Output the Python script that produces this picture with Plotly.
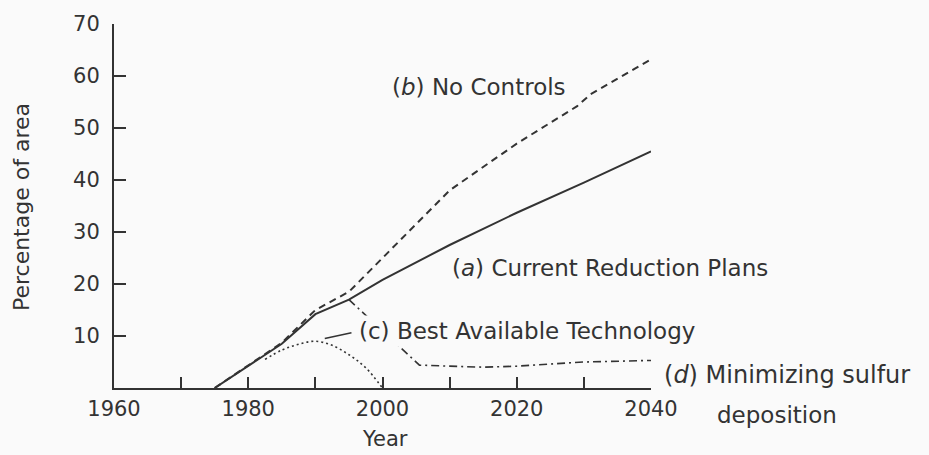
import plotly.graph_objects as go

# ---- data ----
a_years = [1975, 1980, 1985, 1990, 1995, 2000, 2010, 2020, 2030, 2040]
a_vals = [0, 4.3, 8.5, 14.2, 17, 20.8, 27.5, 33.7, 39.5, 45.5]

b_years = [1975, 1980, 1985, 1990, 1995, 2000, 2005, 2010, 2020, 2029, 2031, 2040]
b_vals = [0, 4.3, 8.7, 15, 18.5, 25, 31.5, 38, 47, 54.2, 56.5, 63.2]

c_years = [1982.5, 1985, 1987.5, 1990, 1992.5, 1995, 1997.5, 2000]
c_vals = [5.5, 7.3, 8.4, 9.0, 8.2, 6.4, 3.9, 0]

d_years = [1995, 2005.5, 2010, 2015, 2020, 2025, 2030, 2040]
d_vals = [17, 4.4, 4.2, 4.0, 4.2, 4.6, 5.0, 5.3]

x_tickvals = [1960, 1970, 1980, 1990, 2000, 2010, 2020, 2030, 2040]
x_ticktext = ["1960", "", "1980", "", "2000", "", "2020", "", "2040"]
y_tickvals = [10, 20, 30, 40, 50, 60, 70]
y_ticktext = ["10", "20", "30", "40", "50", "60", "70"]

INK = "#333333"
BG = "#fafafa"
FONT = "DejaVu Sans"

fig = go.Figure()
fig.add_trace(go.Scatter(x=a_years, y=a_vals, mode="lines",
                         line=dict(color=INK, width=2), name="(a)"))
fig.add_trace(go.Scatter(x=b_years, y=b_vals, mode="lines",
                         line=dict(color=INK, width=2, dash="7px,5px"), name="(b)"))
fig.add_trace(go.Scatter(x=c_years, y=c_vals, mode="lines",
                         line=dict(color=INK, width=1.6, dash="2px,3px", shape="spline"),
                         name="(c)"))
fig.add_trace(go.Scatter(x=d_years, y=d_vals, mode="lines",
                         line=dict(color=INK, width=1.6, dash="8px,4px,2px,4px"), name="(d)"))

lab_font = dict(family=FONT, size=23, color=INK)
ann = []
ann.append(dict(x=2014.4, y=57.9, xref="x", yref="y", text="(<i>b</i>) No Controls",
                showarrow=False, xanchor="center", yanchor="middle", font=lab_font))
ann.append(dict(x=2010.0, y=23.1, xref="x", yref="y", text="(<i>a</i>) Current Reduction Plans",
                showarrow=False, xanchor="left", yanchor="middle", font=lab_font))
ann.append(dict(x=1996.0, y=11.05, xref="x", yref="y", text="(c) Best Available Technology",
                showarrow=False, xanchor="left", yanchor="middle", font=lab_font,
                bgcolor=BG, borderpad=2))
ann.append(dict(x=1.0207, y=0.036, xref="paper", yref="paper", text="(<i>d</i>) Minimizing sulfur",
                showarrow=False, xanchor="left", yanchor="middle",
                font=dict(family=FONT, size=24, color=INK)))
ann.append(dict(x=1.1185, y=-0.0731, xref="paper", yref="paper", text="deposition",
                showarrow=False, xanchor="left", yanchor="middle", font=lab_font))
# leader from label (c) to dotted curve
ann.append(dict(x=1991.4, y=9.5, xref="x", yref="y", ax=1995.6, ay=10.7,
                axref="x", ayref="y", text="", showarrow=True, arrowhead=0,
                arrowwidth=1.5, arrowcolor=INK, standoff=0, startstandoff=0))
# axis titles
ann.append(dict(x=-0.1733, y=0.497, xref="paper", yref="paper", text="Percentage of area",
                textangle=-90, showarrow=False, xanchor="center", yanchor="middle",
                font=dict(family=FONT, size=22, color=INK)))
ann.append(dict(x=0.505, y=-0.14, xref="paper", yref="paper", text="Year",
                showarrow=False, xanchor="center", yanchor="middle", borderpad=0,
                font=dict(family=FONT, size=21, color=INK)))

fig.update_layout(
    width=929, height=455,
    margin=dict(l=114, r=278, t=19, b=67),
    paper_bgcolor=BG, plot_bgcolor=BG,
    showlegend=False,
    annotations=ann,
    font=dict(family=FONT, color=INK),
)
fig.update_xaxes(range=[1960, 2040], showline=True, linecolor=INK, linewidth=2,
                 ticks="inside", ticklen=11, tickwidth=1.5, tickcolor=INK,
                 tickvals=x_tickvals, ticktext=x_ticktext, showgrid=False, zeroline=False,
                 tickfont=dict(family=FONT, size=21, color=INK), ticklabelstandoff=1)
fig.update_yaxes(range=[0, 70], showline=True, linecolor=INK, linewidth=2,
                 ticks="inside", ticklen=12, tickwidth=1.5, tickcolor=INK,
                 tickvals=y_tickvals, ticktext=y_ticktext, showgrid=False, zeroline=False,
                 tickfont=dict(family=FONT, size=21, color=INK), ticklabelstandoff=8)

fig.write_html(
    "out.html",
    config={"displayModeBar": False},
    post_script="document.body.style.margin='0';document.body.style.overflow='hidden';"
                "document.body.style.background='" + BG + "';",
)
